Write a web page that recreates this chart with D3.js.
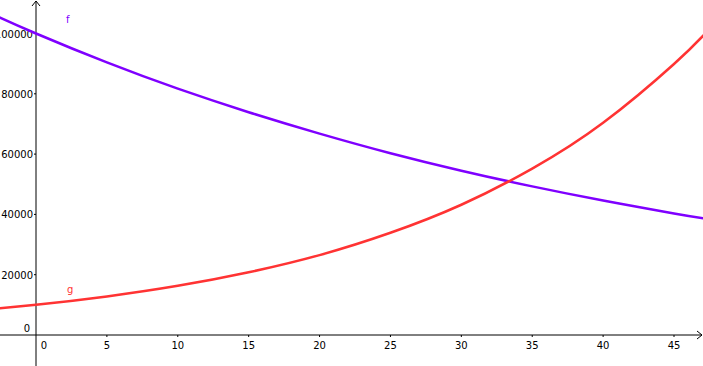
<!DOCTYPE html>
<html>
<head>
<meta charset="utf-8">
<script src="https://cdn.jsdelivr.net/npm/d3@7"></script>
<style>
  body { margin: 0; background: #fff; }
  svg { display: block; }
  text { font-family: "DejaVu Sans", sans-serif; font-size: 10px; }
</style>
</head>
<body>
<div class="chart"></div>
<script>
var width = 703, height = 366;

// sample points
var xs = [-2.6, 0, 5, 10, 15, 20, 25, 30, 35, 40, 45, 47.3];
var fValues = [105400, 100000, 90400, 81700, 73900, 66800, 60300, 54500, 49300, 44600, 40300, 38500];
var gValues = [8810, 10000, 12800, 16300, 20800, 26500, 33900, 43200, 55200, 70400, 89900, 100500];
var xTicks = [0, 5, 10, 15, 20, 25, 30, 35, 40, 45];
var yTicks = [0, 20000, 40000, 60000, 80000, 100000];

var svg = d3.select('.chart')
  .append('svg')
    .attr('width', width)
    .attr('height', height);

const xScale = d3.scaleLinear()
  .domain([0, 45])
  .range([36, 674]);

const yScale = d3.scaleLinear()
  .domain([0, 100000])
  .range([335, 33.5]);

var x0 = xScale(0), y0 = yScale(0);

// axes
svg.append('line')
  .attr('x1', 0).attr('x2', width - 1)
  .attr('y1', y0).attr('y2', y0)
  .style('stroke', '#000').style('stroke-width', 1);
svg.append('path')
  .attr('d', `M${width - 6},${y0 - 4}L${width - 1},${y0}L${width - 6},${y0 + 4}`)
  .style('fill', 'none').style('stroke', '#000');

svg.append('line')
  .attr('x1', x0).attr('x2', x0)
  .attr('y1', 1).attr('y2', height)
  .style('stroke', '#000').style('stroke-width', 1);
svg.append('path')
  .attr('d', `M${x0 - 4},${6}L${x0},${1}L${x0 + 4},${6}`)
  .style('fill', 'none').style('stroke', '#000');

// x ticks
var xt = svg.append('g').selectAll('g')
  .data(xTicks)
  .enter().append('g');
xt.filter(d => d !== 0).append('line')
  .attr('x1', d => xScale(d)).attr('x2', d => xScale(d))
  .attr('y1', y0).attr('y2', y0 + 2)
  .style('stroke', '#000');
xt.append('text')
  .attr('x', d => d === 0 ? x0 + 8 : xScale(d))
  .attr('y', y0 + 14)
  .attr('text-anchor', 'middle')
  .text(d => d);

// y ticks
var yt = svg.append('g').selectAll('g')
  .data(yTicks)
  .enter().append('g');
yt.filter(d => d !== 0).append('line')
  .attr('x1', x0 - 2).attr('x2', x0)
  .attr('y1', d => yScale(d)).attr('y2', d => yScale(d))
  .style('stroke', '#000');
yt.append('text')
  .attr('x', d => d === 0 ? x0 - 6 : x0 - 3)
  .attr('y', d => d === 0 ? y0 - 3 : yScale(d) + 4)
  .attr('text-anchor', 'end')
  .text(d => d);

// curves
var line = (vals) => d3.line()
  .x((d, i) => xScale(xs[i]))
  .y((d) => yScale(d))
  .curve(d3.curveNatural)(vals);

svg.append('path')
  .attr('d', line(fValues))
  .style('fill', 'none')
  .style('stroke', '#7f00ff')
  .style('stroke-width', 2.5);

svg.append('path')
  .attr('d', line(gValues))
  .style('fill', 'none')
  .style('stroke', '#ff3333')
  .style('stroke-width', 2.5);

// labels
svg.append('text')
  .attr('x', 66).attr('y', 23)
  .style('fill', '#7f00ff')
  .text('f');
svg.append('text')
  .attr('x', 67).attr('y', 293)
  .style('fill', '#ff3333')
  .text('g');
</script>
</body>
</html>
